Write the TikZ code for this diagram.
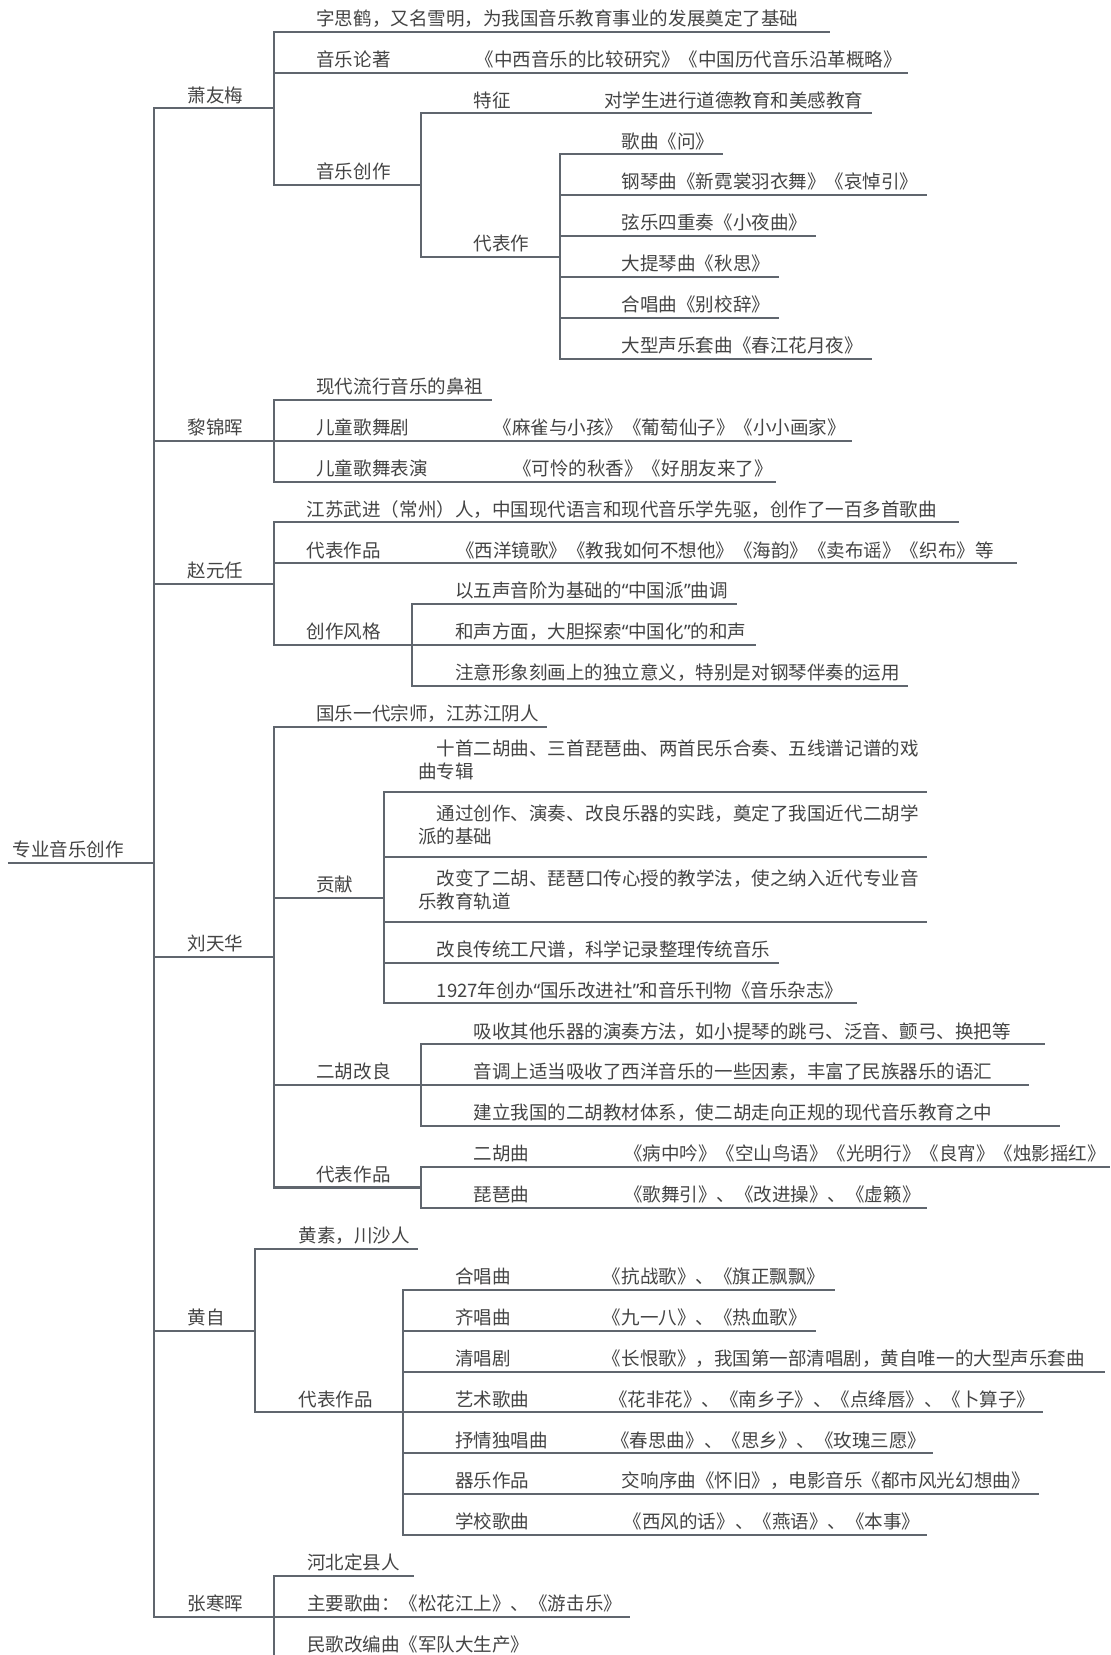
\documentclass[tikz,border=0pt]{standalone}
\usepackage{fontspec}
\setmainfont{Noto Sans CJK SC}
\newfontfamily\qf{Noto Sans}
\newcommand\qopen{{\qf “}}
\newcommand\qclose{{\qf ”}}
\definecolor{lc}{RGB}{96,102,110}
\definecolor{tc}{RGB}{68,68,68}
\tikzset{
  ln/.style={draw=lc, line width=0.95pt},
  tx/.style={inner sep=0pt, anchor=base west, yshift=3pt, text=tc,
    font=\fontsize{8.78pt}{11pt}\selectfont},
  tx2/.style={tx, anchor=south west, yshift=2.35pt, align=left},
}
\begin{document}
\begin{tikzpicture}[x=0.5pt,y=-0.5pt]
\fill[white] (0,0) rectangle (1052,1568.4);
\useasboundingbox (0,0) rectangle (1052,1568.4);
\clip (0,0) rectangle (1052,1568.4);

% root
\coordinate (root-s) at (7.5,817.5);
\coordinate (root-j) at (146.2,817.5);
\node[tx] (root) at (11.8,817.5) {专业音乐创作};
\draw[ln] (root-s) -- (root-j);

% level 1
\node[tx] (xym) at (177.7,102.7) {萧友梅};   \coordinate (xym-j) at (259.3,102.7);
\node[tx] (ljh) at (177.7,417.6) {黎锦晖};   \coordinate (ljh-j) at (259.3,417.6);
\node[tx] (zyr) at (177.7,553.25) {赵元任};  \coordinate (zyr-j) at (259.3,553.25);
\node[tx] (lth) at (177.7,907.1) {刘天华};   \coordinate (lth-j) at (259.3,907.1);
\node[tx] (hz)  at (177.7,1261) {黄自};      \coordinate (hz-j)  at (241.7,1261);
\node[tx] (zhh) at (177.7,1532.3) {张寒晖};  \coordinate (zhh-j) at (259.3,1532.3);
\foreach \c in {xym,ljh,zyr,lth,hz,zhh} \draw[ln] (root-j) |- (\c-j);

% 萧友梅
\node[tx] (x1) at (299.5,30) {字思鹤，又名雪明，为我国音乐教育事业的发展奠定了基础}; \coordinate (x1-j) at (787,30);
\node[tx] (x2) at (299.5,68.8) {音乐论著};
\node[tx] (x2v) at (450.5,68.8) {《中西音乐的比较研究》《中国历代音乐沿革概略》}; \coordinate (x2-j) at (860.7,68.8);
\node[tx] (x3) at (299.5,175.35) {音乐创作}; \coordinate (x3-j) at (399.4,175.35);
\foreach \c in {x1,x2,x3} \draw[ln] (xym-j) |- (\c-j);
\node[tx] (x31) at (448.4,107.5) {特征};
\node[tx] (x31v) at (572,107.5) {对学生进行道德教育和美感教育}; \coordinate (x31-j) at (825.9,107.5);
\node[tx] (x32) at (448.4,243.2) {代表作}; \coordinate (x32-j) at (530.3,243.2);
\foreach \c in {x31,x32} \draw[ln] (x3-j) |- (\c-j);
\node[tx] (x321) at (588.9,146.3) {歌曲《问》}; \coordinate (x321-j) at (685.4,146.3);
\node[tx] (x322) at (588.9,185.0) {钢琴曲《新霓裳羽衣舞》《哀悼引》}; \coordinate (x322-j) at (878.3,185.0);
\node[tx] (x323) at (588.9,223.8) {弦乐四重奏《小夜曲》}; \coordinate (x323-j) at (773.3,223.8);
\node[tx] (x324) at (588.9,262.6) {大提琴曲《秋思》}; \coordinate (x324-j) at (737.9,262.6);
\node[tx] (x325) at (588.9,301.3) {合唱曲《别校辞》}; \coordinate (x325-j) at (737.9,301.3);
\node[tx] (x326) at (588.9,340.1) {大型声乐套曲《春江花月夜》}; \coordinate (x326-j) at (825.9,340.1);
\foreach \c in {x321,x322,x323,x324,x325,x326} \draw[ln] (x32-j) |- (\c-j);

% 黎锦晖
\node[tx] (l1) at (299.5,378.8) {现代流行音乐的鼻祖}; \coordinate (l1-j) at (466.4,378.8);
\node[tx] (l2) at (299.5,417.6) {儿童歌舞剧};
\node[tx] (l2v) at (467.5,417.6) {《麻雀与小孩》《葡萄仙子》《小小画家》}; \coordinate (l2-j) at (807.5,417.6);
\node[tx] (l3) at (299.5,456.4) {儿童歌舞表演};
\node[tx] (l3v) at (486,456.4) {《可怜的秋香》《好朋友来了》}; \coordinate (l3-j) at (735,456.4);
\foreach \c in {l1,l2,l3} \draw[ln] (ljh-j) |- (\c-j);

% 赵元任
\node[tx] (z1) at (290.4,495.1) {江苏武进（常州）人，中国现代语言和现代音乐学先驱，创作了一百多首歌曲}; \coordinate (z1-j) at (908.9,495.1);
\node[tx] (z2) at (290.4,533.9) {代表作品};
\node[tx] (z2v) at (432,533.9) {《西洋镜歌》《教我如何不想他》《海韵》《卖布谣》《织布》等}; \coordinate (z2-j) at (963.4,533.9);
\node[tx] (z3) at (290.4,611.4) {创作风格}; \coordinate (z3-j) at (390.3,611.4);
\foreach \c in {z1,z2,z3} \draw[ln] (zyr-j) |- (\c-j);
\node[tx] (z31) at (430.8,572.6) {以五声音阶为基础的\qopen 中国派\qclose 曲调}; \coordinate (z31-j) at (698.7,572.6);
\node[tx] (z32) at (430.8,611.4) {和声方面，大胆探索\qopen 中国化\qclose 的和声}; \coordinate (z32-j) at (716,611.4);
\node[tx] (z33) at (430.8,650.2) {注意形象刻画上的独立意义，特别是对钢琴伴奏的运用}; \coordinate (z33-j) at (860.2,650.2);
\foreach \c in {z31,z32,z33} \draw[ln] (z3-j) |- (\c-j);

% 刘天华
\node[tx] (t1) at (299.5,688.9) {国乐一代宗师，江苏江阴人}; \coordinate (t1-j) at (518.5,688.9);
\node[tx] (t2) at (299.5,850.65) {贡献}; \coordinate (t2-j) at (364.2,850.65);
\node[tx] (t3) at (299.5,1028.4) {二胡改良}; \coordinate (t3-j) at (399.4,1028.4);
\node[tx] (t4) at (299.5,1125.35) {代表作品}; \coordinate (t4-j) at (399.4,1125.35);
\foreach \c in {t1,t2,t3,t4} \draw[ln] (lth-j) |- (\c-j);
\node[tx2] (t21) at (396,750.4) {\hspace*{1em}十首二胡曲、三首琵琶曲、两首民乐合奏、五线谱记谱的戏\\曲专辑}; \coordinate (t21-j) at (878.7,750.4);
\node[tx2] (t22) at (396,811.9) {\hspace*{1em}通过创作、演奏、改良乐器的实践，奠定了我国近代二胡学\\派的基础}; \coordinate (t22-j) at (878.7,811.9);
\node[tx2] (t23) at (396,873.4) {\hspace*{1em}改变了二胡、琵琶口传心授的教学法，使之纳入近代专业音\\乐教育轨道}; \coordinate (t23-j) at (878.7,873.4);
\node[tx] (t24) at (396,912.2) {\hspace*{1em}改良传统工尺谱，科学记录整理传统音乐}; \coordinate (t24-j) at (738.2,912.2);
\node[tx] (t25) at (396,950.9) {\hspace*{1em}1927年创办\qopen 国乐改进社\qclose 和音乐刊物《音乐杂志》}; \coordinate (t25-j) at (811.9,950.9);
\foreach \c in {t21,t22,t23,t24,t25} \draw[ln] (t2-j) |- (\c-j);
\node[tx] (t31) at (448.4,989.7) {吸收其他乐器的演奏方法，如小提琴的跳弓、泛音、颤弓、换把等}; \coordinate (t31-j) at (990,989.7);
\node[tx] (t32) at (448.4,1028.4) {音调上适当吸收了西洋音乐的一些因素，丰富了民族器乐的语汇}; \coordinate (t32-j) at (975.3,1028.4);
\node[tx] (t33) at (448.4,1067.2) {建立我国的二胡教材体系，使二胡走向正规的现代音乐教育之中}; \coordinate (t33-j) at (1004.7,1067.2);
\foreach \c in {t31,t32,t33} \draw[ln] (t3-j) |- (\c-j);
\node[tx] (t41) at (448.4,1106.0) {二胡曲};
\node[tx] (t41v) at (591,1106.0) {《病中吟》《空山鸟语》《光明行》《良宵》《烛影摇红》}; \coordinate (t41-j) at (1052,1106.0);
\node[tx] (t42) at (448.4,1144.7) {琵琶曲};
\node[tx] (t42v) at (591,1144.7) {《歌舞引》、《改进操》、《虚籁》}; \coordinate (t42-j) at (878.7,1144.7);
\foreach \c in {t41,t42} \draw[ln] (t4-j) |- (\c-j);

% 黄自
\node[tx] (h1) at (282.5,1183.5) {黄素，川沙人}; \coordinate (h1-j) at (396,1183.5);
\node[tx] (h2) at (282.5,1338.5) {代表作品}; \coordinate (h2-j) at (381.8,1338.5);
\foreach \c in {h1,h2} \draw[ln] (hz-j) |- (\c-j);
\node[tx] (h21) at (430.8,1222.2) {合唱曲};
\node[tx] (h21v) at (571,1222.2) {《抗战歌》、《旗正飘飘》}; \coordinate (h21-j) at (791,1222.2);
\node[tx] (h22) at (430.8,1261.0) {齐唱曲};
\node[tx] (h22v) at (571,1261.0) {《九一八》、《热血歌》}; \coordinate (h22-j) at (773.2,1261.0);
\node[tx] (h23) at (430.8,1299.8) {清唱剧};
\node[tx] (h23v) at (571,1299.8) {《长恨歌》，我国第一部清唱剧，黄自唯一的大型声乐套曲}; \coordinate (h23-j) at (1047,1299.8);
\node[tx] (h24) at (430.8,1338.5) {艺术歌曲};
\node[tx] (h24v) at (577,1338.5) {《花非花》、《南乡子》、《点绛唇》、《卜算子》}; \coordinate (h24-j) at (988.2,1338.5);
\node[tx] (h25) at (430.8,1377.3) {抒情独唱曲};
\node[tx] (h25v) at (579,1377.3) {《春思曲》、《思乡》、《玫瑰三愿》}; \coordinate (h25-j) at (884,1377.3);
\node[tx] (h26) at (430.8,1416.0) {器乐作品};
\node[tx] (h26v) at (589,1416.0) {交响序曲《怀旧》，电影音乐《都市风光幻想曲》}; \coordinate (h26-j) at (984.5,1416.0);
\node[tx] (h27) at (430.8,1454.8) {学校歌曲};
\node[tx] (h27v) at (590.8,1454.8) {《西风的话》、《燕语》、《本事》}; \coordinate (h27-j) at (878.7,1454.8);
\foreach \c in {h21,h22,h23,h24,h25,h26,h27} \draw[ln] (h2-j) |- (\c-j);

% 张寒晖
\node[tx] (s1) at (290.6,1493.6) {河北定县人}; \coordinate (s1-j) at (392,1493.6);
\node[tx] (s2) at (290.6,1532.3) {主要歌曲：《松花江上》、《游击乐》}; \coordinate (s2-j) at (597.3,1532.3);
\node[tx] (s3) at (290.6,1571.1) {民歌改编曲《军队大生产》}; \coordinate (s3-j) at (510,1571.1);
\foreach \c in {s1,s2,s3} \draw[ln] (zhh-j) |- (\c-j);
\end{tikzpicture}
\end{document}
